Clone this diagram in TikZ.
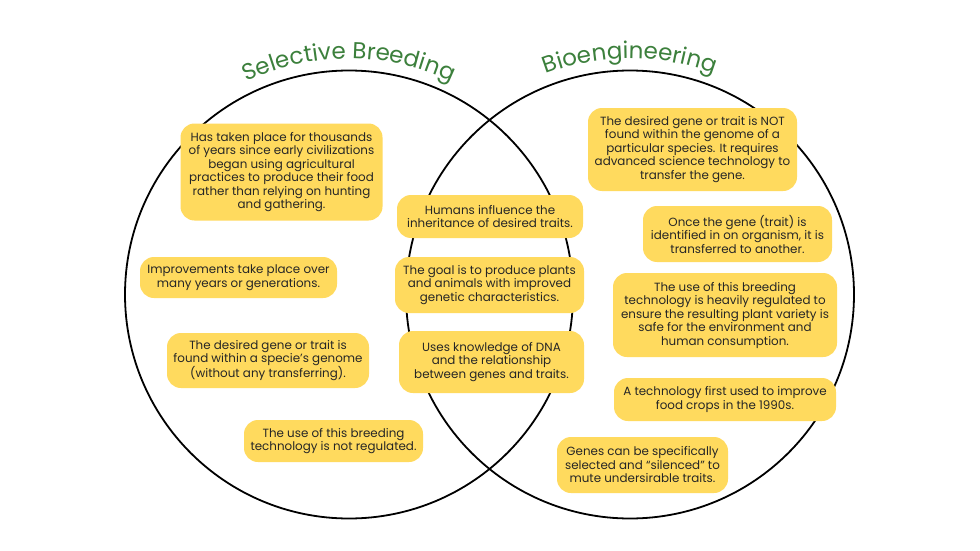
\documentclass[tikz,border=0pt]{standalone}
\usepackage{fontspec}
\setmainfont{Poppins}
\usetikzlibrary{decorations.text}
\definecolor{tgreen}{RGB}{60,128,60}
\definecolor{byellow}{RGB}{255,218,94}
\definecolor{btext}{RGB}{38,38,38}
\newfontfamily\titlefont{Poppins}
\tikzset{
  x=1pt,y=1pt,
  ring/.style={draw=black,line width=1.8pt},
  infobox/.style={fill=byellow,rounded corners=14pt,inner sep=0pt,align=center,
    text=btext,font=\fontsize{11.9}{13.5}\selectfont},
}
\begin{document}
\begin{tikzpicture}
\useasboundingbox (0,0) rectangle (980,-551);
\fill[white] (0,0) rectangle (980,-551);
% circles
\coordinate (cl) at (349,-294.5);
\coordinate (cr) at (630,-294.5);
\draw[ring] (cl) circle[radius=224];
\draw[ring] (cr) circle[radius=224];
% titles
\path[decorate,decoration={text along path,text align=center,
  text={|\fontsize{23}{27}\titlefont\color{tgreen}|Selective Breeding}}]
  (cl) ++(124:236) arc[start angle=124,end angle=56,radius=236];
\path[decorate,decoration={text along path,text align=center,
  text={|\fontsize{23}{27}\titlefont\color{tgreen}|Bioengineering}}]
  (cr) ++(124:236) arc[start angle=124,end angle=56,radius=236];
% left boxes
\node[infobox,minimum width=202pt,minimum height=97pt] (b1) at (281.5,-172)
  {Has taken place for thousands\\of years since early civilizations\\began using agricultural\\practices to produce their food\\rather than relying on hunting\\and gathering.};
\node[infobox,minimum width=197pt,minimum height=41pt] (b2) at (238.5,-277.5)
  {Improvements take place over\\many years or generations.};
\node[infobox,minimum width=202pt,minimum height=55pt] (b3) at (268,-360.5)
  {The desired gene or trait is\\found within a specie’s genome\\(without any transferring).};
\node[infobox,minimum width=179pt,minimum height=42pt] (b4) at (333.5,-441)
  {The use of this breeding\\technology is not regulated.};
% middle boxes
\node[infobox,minimum width=186pt,minimum height=43pt] (b5) at (490,-216.5)
  {Humans influence the\\inheritance of desired traits.};
\node[infobox,minimum width=189pt,minimum height=56pt] (b6) at (489.5,-285)
  {The goal is to produce plants\\and animals with improved\\genetic characteristics.};
\node[infobox,minimum width=185pt,minimum height=62pt] (b7) at (491.5,-362)
  {Uses knowledge of DNA\\and the relationship\\between genes and traits.};
% right boxes
\node[infobox,minimum width=209pt,minimum height=83pt] (b8) at (692.5,-149.5)
  {The desired gene or trait is NOT\\found within the genome of a\\particular species. It requires\\advanced science technology to\\transfer the gene.};
\node[infobox,minimum width=189pt,minimum height=56pt] (b9) at (737.5,-234)
  {Once the gene (trait) is\\identified in on organism, it is\\transferred to another.};
\node[infobox,minimum width=224pt,minimum height=84pt] (b10) at (725,-315)
  {The use of this breeding\\technology is heavily regulated to\\ensure the resulting plant variety is\\safe for the environment and\\human consumption.};
\node[infobox,minimum width=222pt,minimum height=43pt] (b11) at (725,-399.5)
  {A technology first used to improve\\food crops in the 1990s.};
\node[infobox,minimum width=171pt,minimum height=56pt] (b12) at (642.5,-465)
  {Genes can be specifically\\selected and “silenced” to\\mute undersirable traits.};
\end{tikzpicture}
\end{document}
